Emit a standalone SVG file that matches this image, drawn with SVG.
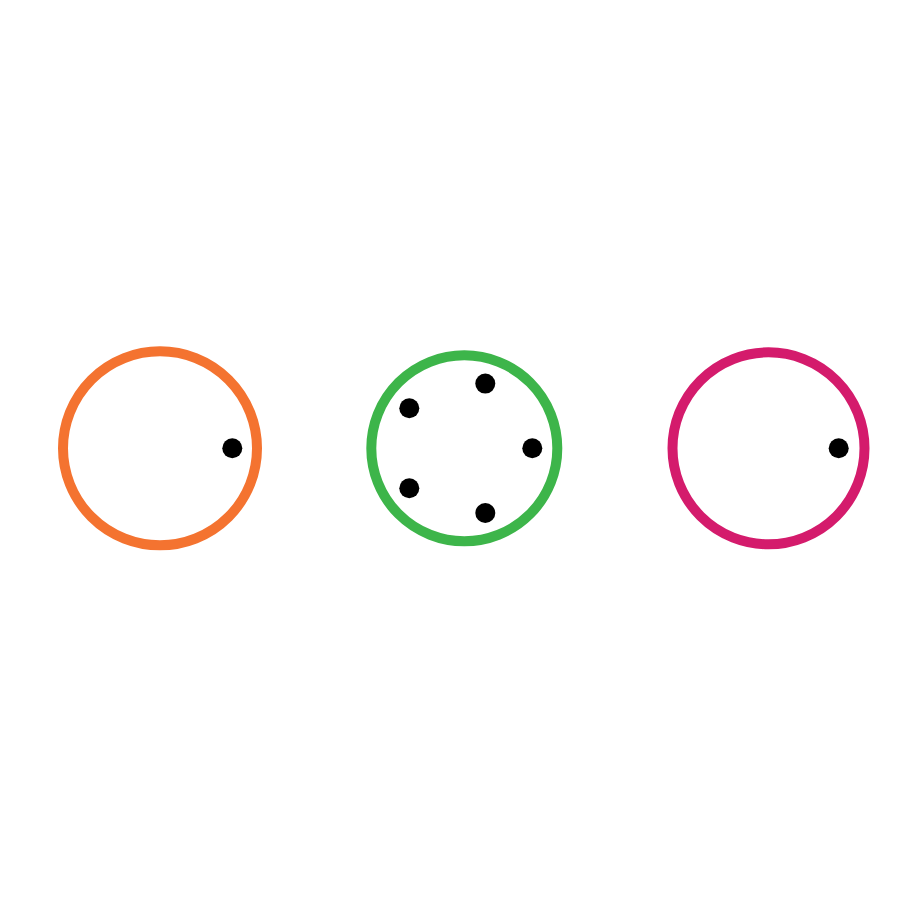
<svg xmlns="http://www.w3.org/2000/svg" width="912" height="912" viewBox="0 0 912 912">
<style>
.ring{fill:none;stroke-width:10}
.dot{fill:#000}
</style>
<rect width="912" height="912" fill="#fff"/>
<g id="node-orange">
<circle class="ring" cx="160" cy="448.3" r="97" stroke="#F47330"/>
<circle class="dot" cx="232.3" cy="448.3" r="10"/>
</g>
<g id="node-green">
<circle class="ring" cx="464.3" cy="448.3" r="93" stroke="#3DB54A"/>
<circle class="dot" cx="532.3" cy="448.3" r="10"/>
<circle class="dot" cx="485.3" cy="383.6" r="10"/>
<circle class="dot" cx="409.3" cy="408.3" r="10"/>
<circle class="dot" cx="409.3" cy="488.3" r="10"/>
<circle class="dot" cx="485.3" cy="513" r="10"/>
</g>
<g id="node-magenta">
<circle class="ring" cx="768.5" cy="448.3" r="96" stroke="#D41B6C"/>
<circle class="dot" cx="838.7" cy="448.3" r="10"/>
</g>
<g id="connectors"></g>
</svg>
